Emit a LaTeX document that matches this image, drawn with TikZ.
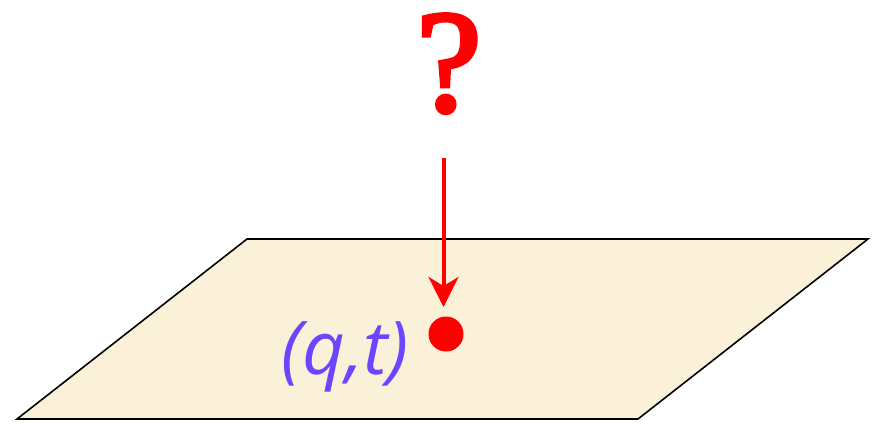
\documentclass[tikz,border=0pt]{standalone}
\usepackage{fontspec}
\setmainfont{Liberation Serif}
\newfontfamily\qmfont[FakeBold=3]{Liberation Serif}
\newfontfamily\labelfont{Open Sans}
\usetikzlibrary{arrows.meta}
\definecolor{planefill}{RGB}{251,241,216}
\definecolor{qred}{RGB}{255,0,0}
\definecolor{qpurple}{RGB}{108,70,255}
\tikzset{
  plane/.style={draw=black, line width=1.6pt, fill=planefill, line join=miter},
  probe/.style={draw=qred, line width=4pt, -{Stealth[length=30pt, width=30pt, inset=9pt]}},
  pointdot/.style={circle, fill=qred, inner sep=0pt, minimum size=35pt},
}
\begin{document}
\begin{tikzpicture}[x=1pt, y=-1pt]
\useasboundingbox (0,0) rectangle (878,424);
\coordinate (p1) at (247,239);
\coordinate (p2) at (868,239);
\coordinate (p3) at (638,419);
\coordinate (p4) at (17,419);
\draw[plane] (p1) -- (p2) -- (p3) -- (p4) -- cycle;
\node[text=qred, font=\qmfont\fontsize{146}{146}\selectfont, anchor=base, inner sep=0pt] (qm) at (449,111) {?};
\coordinate (start) at (443.5,158);
\coordinate (tip) at (443.5,307);
\draw[probe] (start) -- (tip);
\node[pointdot] (pt) at (446,334) {};
\node[text=qpurple, font=\labelfont\itshape\fontsize{74}{74}\selectfont, anchor=base east, inner sep=0pt] (lbl) at (409,374) {(q,t)};
\end{tikzpicture}
\end{document}
